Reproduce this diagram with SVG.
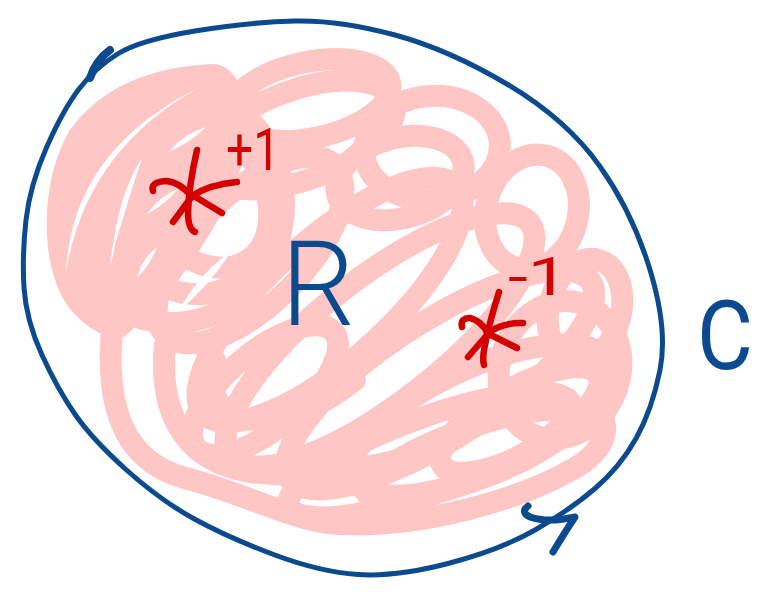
<svg xmlns="http://www.w3.org/2000/svg" width="768" height="592" viewBox="0 0 768 592">
<style>
.pk{fill:none;stroke:#ffc6c6;stroke-width:22;stroke-linecap:round;stroke-linejoin:round}
.pf{fill:#ffc6c6;stroke:none}
.wh{fill:#ffffff;stroke:none}
.bl{fill:none;stroke:#0b4a8f;stroke-width:5;stroke-linecap:round;stroke-linejoin:round}
.rd{fill:none;stroke:#d40000;stroke-width:6.5;stroke-linecap:round;stroke-linejoin:round}
.tb{fill:#0b4a8f;font-family:Roboto,"Liberation Sans",sans-serif}
.tr{fill:#d40000;font-family:Roboto,"Liberation Sans",sans-serif;font-weight:400}
</style>
<rect width="768" height="592" fill="#ffffff"/>
<g id="region-R">
<path class="pf" d="M64,300 C40,260 40,180 70,130 C100,88 150,66 215,64 C245,68 255,120 240,170 C220,230 170,300 120,340 C95,335 75,318 64,300 Z"/>
<ellipse class="pk" cx="172" cy="205" rx="112" ry="118"/>
<ellipse class="pk" cx="185" cy="200" rx="82" ry="98" transform="rotate(-30 185 200)"/>
<ellipse class="pk" cx="200" cy="190" rx="60" ry="85" transform="rotate(-35 200 190)"/>
<ellipse class="pk" cx="310" cy="100" rx="82" ry="38" transform="rotate(-12 310 100)"/>
<ellipse class="pk" cx="300" cy="135" rx="100" ry="45" transform="rotate(-20 300 135)"/>
<ellipse class="pk" cx="432" cy="148" rx="68" ry="52" transform="rotate(-5 432 148)"/>
<ellipse class="pk" cx="400" cy="178" rx="65" ry="40" transform="rotate(-15 400 178)"/>
<ellipse class="pk" cx="532" cy="212" rx="46" ry="58" transform="rotate(15 532 212)"/>
<ellipse class="pk" cx="585" cy="310" rx="36" ry="52" transform="rotate(15 585 310)"/>
<ellipse class="pk" cx="560" cy="370" rx="60" ry="70" transform="rotate(20 560 370)"/>
<ellipse class="pk" cx="330" cy="300" rx="170" ry="60" transform="rotate(-42 330 300)"/>
<ellipse class="pk" cx="380" cy="340" rx="190" ry="62" transform="rotate(-38 380 340)"/>
<ellipse class="pk" cx="440" cy="380" rx="180" ry="58" transform="rotate(-33 440 380)"/>
<ellipse class="pk" cx="480" cy="420" rx="140" ry="52" transform="rotate(-25 480 420)"/>
<ellipse class="pk" cx="430" cy="455" rx="150" ry="38" transform="rotate(-20 430 455)"/>
<ellipse class="pk" cx="250" cy="250" rx="120" ry="55" transform="rotate(-45 250 250)"/>
<ellipse class="pk" cx="520" cy="420" rx="90" ry="32" transform="rotate(-30 520 420)"/>
<ellipse class="pk" cx="470" cy="455" rx="110" ry="26" transform="rotate(-20 470 455)"/>
<ellipse class="pk" cx="265" cy="390" rx="90" ry="38" transform="rotate(-40 265 390)"/>
<path class="pk" d="M112,330 C105,410 125,462 185,478 C250,495 295,522 340,524 C420,528 520,500 575,468 C615,445 612,410 585,408"/>
<path class="pk" d="M165,345 C158,420 190,462 250,472 C310,480 360,470 420,455"/>
<path class="pk" d="M215,360 C205,400 225,422 265,420 C300,418 330,400 355,380"/>
<path class="wh" d="M66,272 Q72,150 200,87 Q86,150 66,272 Z"/>
<path class="wh" d="M112,255 Q118,195 142,158 Q128,200 112,255 Z"/>
<path class="wh" d="M168,152 Q185,133 206,127 Q192,142 168,152 Z"/>
<path class="wh" d="M147,214 Q160,196 178,189 Q166,204 147,214 Z"/>
<path class="wh" d="M110,265 Q111,250 115,237 Q115,252 110,265 Z"/>
<path class="wh" d="M137,278 Q142,258 157,247 Q150,265 137,278 Z"/>
<path class="wh" d="M178,312 Q198,275 232,250 Q210,285 178,312 Z"/>
</g>
<g id="curve-C">
<path class="bl" d="M117.5,54 Q140,40 195,31 Q250,22 295,21 Q340,20 395,35 Q450,50 508.5,85 Q567,120 600,166.5 Q633,213 650.5,271.5 Q668,330 660,370 Q652,410 636,438.5 Q620,467 595,488.5 Q570,510 535,530 Q500,550 448,563.5 Q396,577 358,574.5 Q320,572 273.5,554.5 Q227,537 193.5,518.5 Q160,500 126.5,470 Q93,440 75.5,415 Q58,390 42,355 Q26,320 24,287.5 Q22,255 26,220 Q30,185 46.5,147.5 Q63,110 79,89 Q95,68 117.5,54 Z"/>
<path class="bl" style="stroke-width:8" d="M90,78 Q96,60 110,50"/>
<path class="bl" style="stroke-width:7" d="M528,506 Q520,512 530,517 Q548,523 575,517 Q565,532 553,552"/>
</g>
<g id="star-plus">
<path class="rd" d="M197,150 Q189,185 188,212 Q188,229 195,232"/>
<path class="rd" d="M153,191 Q150,182 166,181 Q180,182 192,197"/>
<path class="rd" d="M190,197 Q210,184 237,182"/>
<path class="rd" d="M194,196 L222,213"/>
<path class="rd" d="M190,199 L173,222"/>
</g>
<g id="star-minus">
<path class="rd" d="M499,292 Q490,320 485,345 Q482,358 484,365"/>
<path class="rd" d="M462,327 Q460,318 470,318 Q480,320 488,333"/>
<path class="rd" d="M487,333 Q505,322 523,323"/>
<path class="rd" d="M487,333 L517,348"/>
<path class="rd" d="M487,335 L468,357"/>
</g>
<g id="labels">
<text class="tb" x="281" y="325" font-size="118" font-weight="300" textLength="74" lengthAdjust="spacingAndGlyphs">R</text>
<text class="tb" x="697" y="369" font-size="96" font-weight="400" textLength="56" lengthAdjust="spacingAndGlyphs">C</text>
<text class="tr" x="226" y="170" font-size="60" textLength="54" lengthAdjust="spacingAndGlyphs">+1</text>
<text class="tr" x="508" y="295" font-size="53" textLength="60" lengthAdjust="spacingAndGlyphs">-1</text>
</g>
</svg>
